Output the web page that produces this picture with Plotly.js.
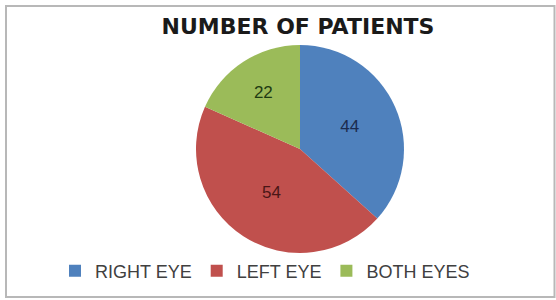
<!DOCTYPE html>
<html>
<head>
<meta charset="utf-8">
<script src="https://cdn.plot.ly/plotly-3.0.1.min.js"></script>
<style>
html,body{margin:0;padding:0;background:#fff;}
#chart{width:556px;height:300px;}
</style>
</head>
<body>
<div id="chart"></div>
<script>
const categories = ["RIGHT EYE", "LEFT EYE", "BOTH EYES"];
const patients = [44, 54, 22];

const sliceColors = ["#4F81BD", "#C0504D", "#9BBB59"];
const labelColors = ["#1c2b4e", "#4a1616", "#1e3a12"];

const W = 556, H = 300;
const cx = 300, cy = 149, R = 104;

const trace = {
  type: "pie",
  labels: categories,
  values: patients,
  sort: false,
  direction: "clockwise",
  rotation: 0,
  marker: { colors: sliceColors, line: { width: 0 } },
  textinfo: "value",
  textposition: "inside",
  insidetextorientation: "horizontal",
  insidetextfont: { family: "Liberation Sans, Arial, sans-serif", size: 17, color: labelColors },
  domain: { x: [(cx - R) / W, (cx + R) / W], y: [1 - (cy + R) / H, 1 - (cy - R) / H] },
  hoverinfo: "none"
};

const layout = {
  width: W, height: H,
  margin: { l: 0, r: 0, t: 0, b: 0 },
  paper_bgcolor: "#ffffff",
  title: {
    text: "<b>NUMBER OF PATIENTS</b>",
    font: { family: "DejaVu Sans, sans-serif", size: 22, color: "#1a1a1a" },
    x: 298 / W, xanchor: "center",
    y: 1 - 26 / H, yanchor: "middle", yref: "container"
  },
  showlegend: true,
  legend: {
    orientation: "h",
    x: 265 / W, xanchor: "center",
    y: 1 - 271 / H, yanchor: "middle",
    font: { family: "Liberation Sans, Arial, sans-serif", size: 18, color: "#404040" },
    traceorder: "normal"
  },
  shapes: [{
    type: "rect", xref: "paper", yref: "paper",
    x0: 6 / W, x1: 554.5 / W, y0: 1 - 297 / H, y1: 1 - 6 / H,
    line: { color: "#b8b8b8", width: 2 }, fillcolor: "rgba(0,0,0,0)", layer: "below"
  }]
};

Plotly.newPlot("chart", [trace], layout, { staticPlot: true, displayModeBar: false });
</script>
</body>
</html>
